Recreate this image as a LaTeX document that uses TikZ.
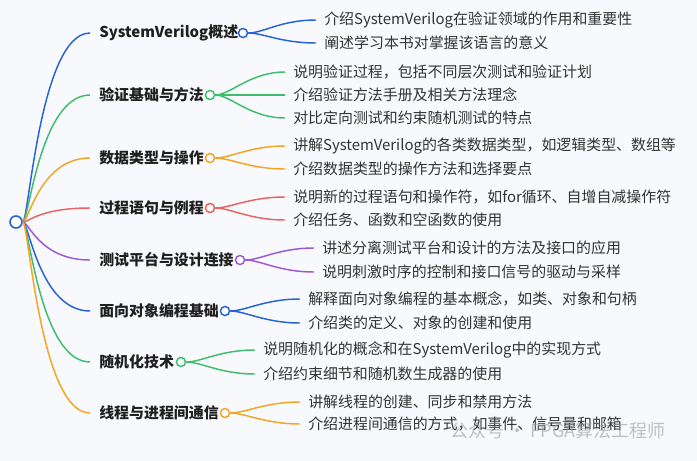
\documentclass[tikz,border=0pt]{standalone}
\usepackage{fontspec}
\setmainfont{Noto Sans CJK SC}
\usetikzlibrary{positioning}

\definecolor{bgcol}{RGB}{248,249,252}
\definecolor{mblue}{RGB}{40,98,216}
\definecolor{mgreen}{RGB}{62,190,108}
\definecolor{morange}{RGB}{244,164,36}
\definecolor{mred}{RGB}{234,98,98}
\definecolor{mpurple}{RGB}{158,88,214}

\tikzset{
  branch/.style={anchor=west, inner ysep=0pt, inner xsep=6.75pt, text=black!88,
    font=\fontsize{11.2}{13}\selectfont\bfseries},
  leaf/.style={anchor=west, inner ysep=0pt, inner xsep=6pt, text=black!80,
    font=\fontsize{11.2}{13}\selectfont},
  dot/.style={circle, draw=#1, fill=white, line width=1.1pt, minimum size=6.8pt, inner sep=0pt},
  link/.style={line width=1.1pt},
}

\begin{document}
\begin{tikzpicture}  % ------ SystemVerilog mind map --------
      [x=0.75pt, y=-0.75pt]

    \fill[bgcol] (0,0) rectangle (697,461);

    \node[dot=mblue, minimum size=9pt, line width=1.2pt] (root) at (16,222) {};

    % first level
    \node[branch] (b1) at (90,33)  {SystemVerilog概述};
    \node[branch] (b2) at (90,95)  {验证基础与方法};
    \node[branch] (b3) at (90,158) {数据类型与操作};
    \node[branch] (b4) at (90,208) {过程语句与例程};
    \node[branch] (b5) at (90,260) {测试平台与设计连接};
    \node[branch] (b6) at (90,311) {面向对象编程基础};
    \node[branch] (b7) at (90,362) {随机化技术};
    \node[branch] (b8) at (90,413) {线程与进程间通信};

    \node[dot=mblue]   (c1) at (243,33)  {};
    \node[dot=mgreen]  (c2) at (210,95)  {};
    \node[dot=morange] (c3) at (210,158) {};
    \node[dot=mred]    (c4) at (210,208) {};
    \node[dot=mpurple] (c5) at (240,260) {};
    \node[dot=mblue]   (c6) at (225,311) {};
    \node[dot=mgreen]  (c7) at (181,362) {};
    \node[dot=morange] (c8) at (225,413) {};

    \foreach \b/\c in {b1/mblue, b2/mgreen, b3/morange, b4/mred, b5/mpurple, b6/mblue, b7/mgreen, b8/morange}
      \draw[link, \c] (root.east) .. controls +(6,0) and +(-50,0) .. (\b.west);

    % second level
    \node[leaf] (l11) at (316,20)  {介绍SystemVerilog在验证领域的作用和重要性};
    \node[leaf] (l12) at (316,43)  {阐述学习本书对掌握该语言的意义};
    \node[leaf] (l21) at (285,72)  {说明验证过程，包括不同层次测试和验证计划};
    \node[leaf] (l22) at (285,95)  {介绍验证方法手册及相关方法理念};
    \node[leaf] (l23) at (285,118) {对比定向测试和约束随机测试的特点};
    \node[leaf] (l31) at (285,146) {讲解SystemVerilog的各类数据类型，如逻辑类型、数组等};
    \node[leaf] (l32) at (285,169) {介绍数据类型的操作方法和选择要点};
    \node[leaf] (l41) at (285,197) {说明新的过程语句和操作符，如for循环、自增自减操作符};
    \node[leaf] (l42) at (285,220) {介绍任务、函数和空函数的使用};
    \node[leaf] (l51) at (314,248) {讲述分离测试平台和设计的方法及接口的应用};
    \node[leaf] (l52) at (314,272) {说明刺激时序的控制和接口信号的驱动与采样};
    \node[leaf] (l61) at (300,299) {解释面向对象编程的基本概念，如类、对象和句柄};
    \node[leaf] (l62) at (300,323) {介绍类的定义、对象的创建和使用};
    \node[leaf] (l71) at (255,350) {说明随机化的概念和在SystemVerilog中的实现方式};
    \node[leaf] (l72) at (255,374) {介绍约束细节和随机数生成器的使用};
    \node[leaf] (l81) at (300,402) {讲解线程的创建、同步和禁用方法};
    \node[leaf] (l82) at (300,424) {介绍进程间通信的方式，如事件、信号量和邮箱};

    \foreach \c/\l/\col in {c1/l11/mblue, c1/l12/mblue, c2/l21/mgreen, c2/l22/mgreen, c2/l23/mgreen,
        c3/l31/morange, c3/l32/morange, c4/l41/mred, c4/l42/mred, c5/l51/mpurple, c5/l52/mpurple,
        c6/l61/mblue, c6/l62/mblue, c7/l71/mgreen, c7/l72/mgreen, c8/l81/morange, c8/l82/morange}
      \draw[link, \col] (\c.east) .. controls +(15,0) and +(-35,0) .. (\l.west);

    % watermark
    \node[anchor=west, text=black!40, text opacity=0.6, font=\fontsize{13.5}{15}\selectfont]
      (wm) at (446,431) {公众号 · FPGA算法工程师};
\end{tikzpicture}
\end{document}
